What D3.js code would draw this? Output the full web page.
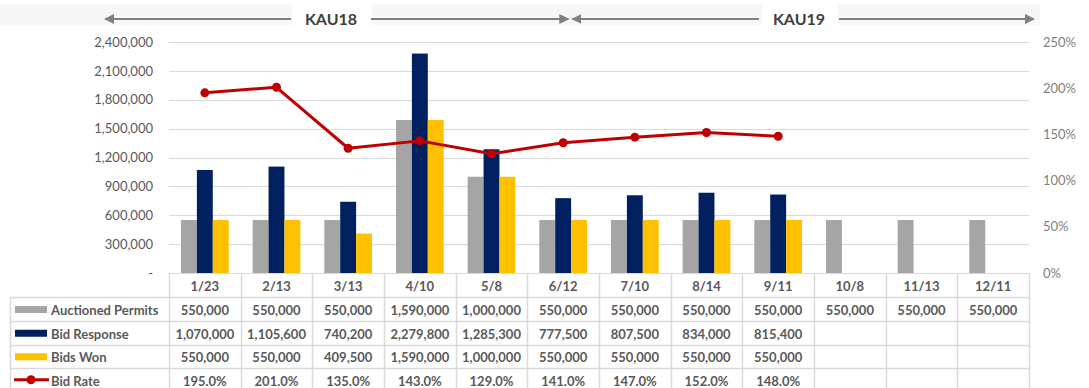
<!DOCTYPE html>
<html><head><meta charset="utf-8">
<script src="https://cdn.jsdelivr.net/npm/d3@7"></script>
<style>body{margin:0;background:#fff;}svg{display:block;font-family:Lato,"Open Sans",sans-serif;}</style>
</head><body><div id="chart"></div>
<script>
const categories = ["1/23","2/13","3/13","4/10","5/8","6/12","7/10","8/14","9/11","10/8","11/13","12/11"];
const auctionedPermits = [550000,550000,550000,1590000,1000000,550000,550000,550000,550000,550000,550000,550000];
const bidResponse = [1070000,1105600,740200,2279800,1285300,777500,807500,834000,815400,null,null,null];
const bidsWon = [550000,550000,409500,1590000,1000000,550000,550000,550000,550000,null,null,null];
const bidRate = [1.95,2.01,1.35,1.43,1.29,1.41,1.47,1.52,1.48,null,null,null];
const leftTicks = [0,300000,600000,900000,1200000,1500000,1800000,2100000,2400000];
const rightTicks = [0,0.5,1,1.5,2,2.5];
const seriesNames = ["Auctioned Permits","Bid Response","Bids Won"];
const seriesColors = ["#a5a5a5","#002060","#ffc000"];
const lineName = "Bid Rate";
const lineColor = "#c00000";
const periods = ["KAU18","KAU19"];

const W=1089,H=388;
const plotL=169, plotR=1029, plotT=42, plotB=273;
const svg=d3.select("#chart").append("svg").attr("width",W).attr("height",H);

const x=d3.scaleBand().domain(categories).range([plotL,plotR]).padding(0);
const bw=x.bandwidth();
const x1=d3.scaleBand().domain(seriesNames).range([bw*0.167,bw*0.833]).padding(0);
const y=d3.scaleLinear().domain([0,2400000]).range([plotB,plotT]);
const y2=d3.scaleLinear().domain([0,2.5]).range([plotB,plotT]);

// top period bands
const bandFill="#f7f7f7";
[[0,292],[372,762],[838,1040]].forEach(r=>svg.append("rect").attr("x",r[0]).attr("y",4).attr("width",r[1]-r[0]).attr("height",21).attr("fill",bandFill));
const defs=svg.append("defs");
defs.append("marker").attr("id","ah").attr("viewBox","0 0 10 10").attr("refX",9).attr("refY",5)
 .attr("markerWidth",5).attr("markerHeight",5).attr("orient","auto-start-reverse")
 .append("path").attr("d","M0,0L10,5L0,10z").attr("fill","#808080");
const meet = x(categories[5]) + bw*0.6;
const spans=[[105, meet-2, 331],[meet+2, 1034, 799]];
periods.forEach((p,i)=>{
  const [x0,xe,cx]=spans[i];
  const tw=26;
  svg.append("line").attr("x1",cx-tw-14).attr("x2",x0).attr("y1",19).attr("y2",19)
   .attr("stroke","#808080").attr("stroke-width",2).attr("marker-end","url(#ah)");
  svg.append("line").attr("x1",cx+tw+14).attr("x2",xe).attr("y1",19).attr("y2",19)
   .attr("stroke","#808080").attr("stroke-width",2).attr("marker-end","url(#ah)");
  svg.append("text").attr("x",cx).attr("y",21).attr("text-anchor","middle").attr("dominant-baseline","middle")
   .attr("font-size",16).attr("font-weight","bold").attr("fill","#404040").text(p);
});

// gridlines
svg.append("g").selectAll("line").data(leftTicks.filter(d=>d>0)).join("line")
 .attr("x1",plotL).attr("x2",plotR).attr("y1",d=>Math.round(y(d))+0.5).attr("y2",d=>Math.round(y(d))+0.5)
 .attr("stroke","#d9d9d9").attr("stroke-width",1);

// left axis
const fmt=d3.format(",");
const la=svg.append("g").attr("transform",`translate(${plotL-16},0)`)
 .call(d3.axisLeft(y).tickValues(leftTicks).tickSize(0).tickPadding(0).tickFormat(d=>d===0?"-":fmt(d)));
la.select(".domain").remove();
la.selectAll("text").attr("font-size",13).attr("fill","#595959").attr("font-family","Lato");
// right axis
const ra=svg.append("g").attr("transform",`translate(${plotR+14},0)`)
 .call(d3.axisRight(y2).tickValues(rightTicks).tickSize(0).tickPadding(0).tickFormat(d3.format(".0%")));
ra.select(".domain").remove();
ra.selectAll("text").attr("font-size",13).attr("fill","#7f7f7f").attr("font-family","Lato");

// bars
const seriesData=[auctionedPermits,bidResponse,bidsWon];
seriesData.forEach((arr,si)=>{
  svg.append("g").selectAll("rect").data(categories.map((c,i)=>({c,v:arr[i]})).filter(d=>d.v!=null)).join("rect")
   .attr("x",d=>x(d.c)+x1(seriesNames[si])).attr("width",x1.bandwidth())
   .attr("y",d=>y(d.v)).attr("height",d=>plotB-y(d.v)).attr("fill",seriesColors[si]);
});

// line
const pts=categories.map((c,i)=>({c,v:bidRate[i]})).filter(d=>d.v!=null);
svg.append("path").datum(pts).attr("fill","none").attr("stroke",lineColor).attr("stroke-width",3)
 .attr("stroke-linejoin","round")
 .attr("d",d3.line().x(d=>x(d.c)+bw/2).y(d=>y2(d.v)));
svg.append("g").selectAll("circle").data(pts).join("circle")
 .attr("cx",d=>x(d.c)+bw/2).attr("cy",d=>y2(d.v)).attr("r",4.5).attr("fill",lineColor);

// data table
const tblL=10;
const rowY=[273,297,321,344.5,368,391.5];
const bc="#d9d9d9";
const tg=svg.append("g");
tg.append("line").attr("x1",plotL).attr("x2",plotR).attr("y1",rowY[0]+0.5).attr("y2",rowY[0]+0.5).attr("stroke",bc);
for(let r=1;r<rowY.length;r++) tg.append("line").attr("x1",tblL).attr("x2",plotR).attr("y1",Math.round(rowY[r])+0.5).attr("y2",Math.round(rowY[r])+0.5).attr("stroke",bc).attr("stroke-width",1.5);
tg.append("line").attr("x1",tblL+0.5).attr("x2",tblL+0.5).attr("y1",rowY[1]).attr("y2",H).attr("stroke",bc).attr("stroke-width",1.5);
categories.concat([null]).forEach((c,i)=>{
  const xx=c?x(c):plotR;
  tg.append("line").attr("x1",Math.round(xx)+0.5).attr("x2",Math.round(xx)+0.5).attr("y1",rowY[0]).attr("y2",H).attr("stroke",bc).attr("stroke-width",1.5);
});
const txt=(xx,yy,s,anchor)=>tg.append("text").attr("x",xx).attr("y",yy).attr("text-anchor",anchor||"middle")
  .attr("dominant-baseline","central").attr("font-size",13).attr("font-weight","bold").attr("fill","#595959").text(s);
categories.forEach(c=>txt(x(c)+bw/2,(rowY[0]+rowY[1])/2+1,c));
const rows=[auctionedPermits,bidResponse,bidsWon,bidRate];
const rowFmt=[fmt,fmt,fmt,d3.format(".1%")];
rows.forEach((arr,r)=>{
  const cy=(rowY[r+1]+rowY[r+2])/2+1;
  categories.forEach((c,i)=>{ if(arr[i]!=null) txt(x(c)+bw/2,cy,rowFmt[r](arr[i])); });
  const name = r<3?seriesNames[r]:lineName;
  if(r<3){
    tg.append("rect").attr("x",15).attr("y",cy-4).attr("width",32).attr("height",7).attr("fill",seriesColors[r]);
  } else {
    tg.append("line").attr("x1",14).attr("x2",49).attr("y1",cy-1).attr("y2",cy-1).attr("stroke",lineColor).attr("stroke-width",3);
    tg.append("circle").attr("cx",31).attr("cy",cy-1).attr("r",4.5).attr("fill",lineColor);
  }
  txt(51,cy,name,"start");
});
</script></body></html>
